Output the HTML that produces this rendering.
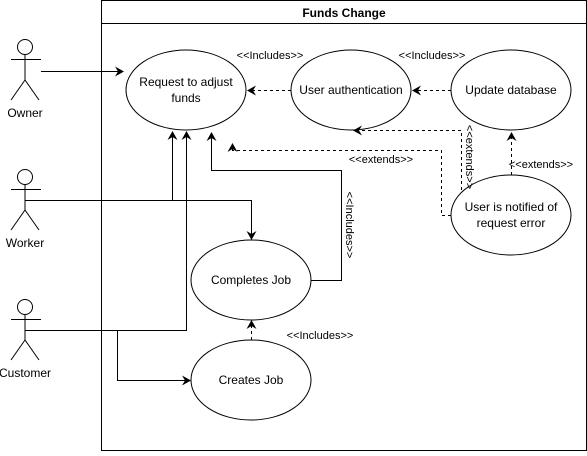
<!DOCTYPE html>
<html><head><style>body{margin:0;background:#fff}</style></head><body>
<svg width="587" height="451" xmlns="http://www.w3.org/2000/svg" font-family="Liberation Sans, sans-serif" font-size="12">
<defs>
<marker id="a" markerWidth="10" markerHeight="10" refX="8" refY="5" orient="auto" markerUnits="userSpaceOnUse"><path d="M0,0 L9,5 L0,10 L3,5 Z" fill="#000"/></marker>
</defs>
<rect x="101.5" y="0.5" width="485" height="450" fill="#fff" stroke="#000"/>
<line x1="101" y1="23.5" x2="587" y2="23.5" stroke="#000"/>
<text x="344" y="17" text-anchor="middle" font-weight="bold" font-size="12">Funds Change</text>
<g fill="none" stroke="#000">
<g id="act"><circle cx="25" cy="47" r="7.5"/><line x1="25" y1="54.5" x2="25" y2="80"/><line x1="11" y1="59.5" x2="41" y2="59.5"/><path d="M11,100 L25,80 L39,100"/></g>
<g transform="translate(0,130)"><circle cx="25" cy="47" r="7.5"/><line x1="25" y1="54.5" x2="25" y2="80"/><line x1="11" y1="59.5" x2="41" y2="59.5"/><path d="M11,100 L25,80 L39,100"/></g>
<g transform="translate(0,260)"><circle cx="25" cy="47" r="7.5"/><line x1="25" y1="54.5" x2="25" y2="80"/><line x1="11" y1="59.5" x2="41" y2="59.5"/><path d="M11,100 L25,80 L39,100"/></g>
<ellipse cx="186" cy="90" rx="60" ry="40"/>
<ellipse cx="351" cy="90" rx="60" ry="40"/>
<ellipse cx="511" cy="90" rx="60" ry="40"/>
<ellipse cx="511" cy="215" rx="60" ry="40"/>
<ellipse cx="251" cy="280" rx="60" ry="40"/>
<ellipse cx="251" cy="380" rx="60" ry="40"/>
<path d="M41,71.5 H123" marker-end="url(#a)"/>
<path d="M25,200.5 H251.5 V239" marker-end="url(#a)"/>
<path d="M172.5,200 V132" marker-end="url(#a)"/>
<path d="M25,330.5 H186.5 V132" marker-end="url(#a)"/>
<path d="M117.5,330 V380.5 H190" marker-end="url(#a)"/>
<path d="M311,280.5 H341.5 V170.5 H211.5 V133" marker-end="url(#a)"/>
<g stroke-dasharray="3,3">
<path d="M291,90.5 H248" marker-end="url(#a)"/>
<path d="M451,90.5 H413" marker-end="url(#a)"/>
<path d="M451,215.5 H441.5 V150.5 H232.5 V144" marker-end="url(#a)"/>
<path d="M461.5,190 V130.5 H354" marker-end="url(#a)"/>
<path d="M511.5,175 V133" marker-end="url(#a)"/>
<path d="M251.5,340 V321" marker-end="url(#a)"/>
</g>
</g>
<g font-size="12" fill="#000" text-anchor="middle">
<text x="25" y="117">Owner</text>
<text x="25" y="247">Worker</text>
<text x="25" y="377">Customer</text>
<text x="186" y="86">Request to adjust</text>
<text x="186" y="102">funds</text>
<text x="351" y="94">User authentication</text>
<text x="511" y="94">Update database</text>
<text x="511" y="211">User is notified of</text>
<text x="511" y="227">request error</text>
<text x="251" y="284">Completes Job</text>
<text x="251" y="384">Creates Job</text>
</g>
<g font-size="11" fill="#000" text-anchor="middle">
<text x="270" y="59">&lt;&lt;Includes&gt;&gt;</text>
<text x="432" y="59">&lt;&lt;Includes&gt;&gt;</text>
<text x="381" y="163">&lt;&lt;extends&gt;&gt;</text>
<text x="541" y="168">&lt;&lt;extends&gt;&gt;</text>
<text x="320" y="339">&lt;&lt;Includes&gt;&gt;</text>
<text transform="translate(466,157) rotate(90)">&lt;&lt;extends&gt;&gt;</text>
<text transform="translate(346,225) rotate(90)">&lt;&lt;Includes&gt;&gt;</text>
</g>
</svg>
</body></html>
